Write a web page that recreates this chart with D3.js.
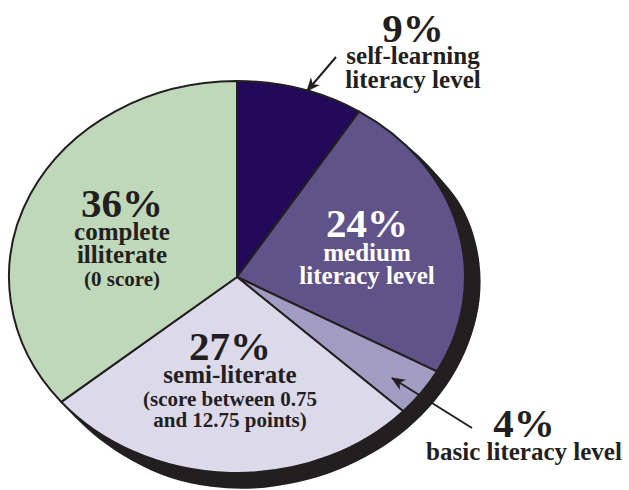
<!DOCTYPE html>
<html>
<head>
<meta charset="utf-8">
<script src="https://cdn.jsdelivr.net/npm/d3@7"></script>
<style>
  body { margin: 0; background: #fff; }
  svg { display: block; }
  text { font-family: "Liberation Serif", "Times New Roman", serif; font-weight: bold; }
</style>
</head>
<body>
<svg id="chart" width="629" height="490"></svg>
<script>
// data, clockwise from 12 o'clock
const categories = ["self-learning literacy level", "medium literacy level", "basic literacy level", "semi-literate", "complete illiterate"];
const shares = [9, 24, 4, 27, 36];
const sliceColors = ["#22095a", "#5f538a", "#a39cc2", "#dcd9ea", "#bfd8b9"];

// label text for each slice
const labelLines = [
  ["9%", "self-learning", "literacy level"],
  ["24%", "medium", "literacy level"],
  ["4%", "basic literacy level"],
  ["27%", "semi-literate", "(score between 0.75", "and 12.75 points)"],
  ["36%", "complete", "illiterate", "(0 score)"],
];

const ink = "#231f20";
const cx = 237, cy = 277;
const rx = 228, ry = 196;
const squash = ry / rx;

// where each label block sits (x of block centre, baseline of each line), sizes per line
const labelLayout = [
  { x: 413, ys: [42, 64, 88], sizes: [41, 25, 25], fill: ink },
  { x: 367, ys: [237, 261, 284], sizes: [41, 25, 25], fill: "#fff" },
  { x: 524, ys: [437, 460], sizes: [41, 25], fill: ink },
  { x: 230, ys: [360, 383, 406, 427], sizes: [41, 25, 21, 21], fill: ink },
  { x: 122, ys: [217, 240, 263, 286], sizes: [41, 25, 25, 21], fill: ink },
];

// callout arrows for the two small outside labels
const arrows = [
  { slice: 0, from: [336, 57], to: [307, 91] },
  { slice: 2, from: [472, 428], to: [392, 378] },
];

// rim shadow: angle (deg, clockwise from top) -> thickness in px
const shadowRim = [
  [44, 0], [52, 2], [60, 5], [68, 10], [76, 13], [86, 15], [96, 16], [106, 16],
  [116, 16], [126, 16], [136, 16], [146, 16], [156, 16], [166, 16], [176, 16],
  [186, 15], [196, 13], [206, 9], [216, 5], [224, 2], [232, 0],
];

const svg = d3.select("#chart");

svg.append("defs").append("marker")
  .attr("id", "head")
  .attr("markerUnits", "userSpaceOnUse")
  .attr("viewBox", "-14 -7 16 14")
  .attr("markerWidth", 16)
  .attr("markerHeight", 14)
  .attr("refX", 0)
  .attr("refY", 0)
  .attr("orient", "auto")
  .append("path")
  .attr("d", "M1,0 L-13,-6 L-9,0 L-13,6 Z")
  .attr("fill", ink);

const pie = d3.pie().sort(null).value((d) => d);
const arcs = pie(shares);
const arc = d3.arc().innerRadius(0).outerRadius(rx);

const pieG = svg.append("g")
  .attr("transform", `translate(${cx},${cy}) scale(1,${squash})`);

// shadow, drawn in the squashed frame so radial thickness is stretched back
const rad = (deg) => (deg * Math.PI) / 180;
const stretch = (a) => Math.sqrt(Math.sin(a) ** 2 + (squash * Math.cos(a)) ** 2);
pieG.append("path")
  .datum(shadowRim)
  .attr("fill", ink)
  .attr("d", d3.areaRadial()
    .curve(d3.curveCatmullRom)
    .angle((d) => rad(d[0]))
    .innerRadius(rx - 2)
    .outerRadius((d) => rx + d[1] / stretch(rad(d[0])))
  );

pieG.selectAll("path.slice")
  .data(arcs)
  .enter()
  .append("path")
  .attr("class", "slice")
  .attr("d", arc)
  .attr("fill", (d, i) => sliceColors[i])
  .attr("stroke", ink)
  .attr("stroke-width", 2)
  .attr("stroke-linejoin", "round")
  .attr("vector-effect", "non-scaling-stroke");

// arrows
svg.selectAll("line.callout")
  .data(arrows)
  .enter()
  .append("line")
  .attr("class", "callout")
  .attr("x1", (d) => d.from[0])
  .attr("y1", (d) => d.from[1])
  .attr("x2", (d) => d.to[0])
  .attr("y2", (d) => d.to[1])
  .attr("stroke", ink)
  .attr("stroke-width", 2)
  .attr("marker-end", "url(#head)");

// labels
const blocks = svg.selectAll("g.label")
  .data(labelLines)
  .enter()
  .append("g")
  .attr("class", "label");

blocks.each(function (lines, i) {
  const lay = labelLayout[i];
  d3.select(this).selectAll("text")
    .data(lines)
    .enter()
    .append("text")
    .attr("x", lay.x)
    .attr("y", (d, j) => lay.ys[j])
    .attr("text-anchor", "middle")
    .attr("font-size", (d, j) => lay.sizes[j])
    .attr("fill", lay.fill)
    .text((d) => d);
});
</script>
</body>
</html>
